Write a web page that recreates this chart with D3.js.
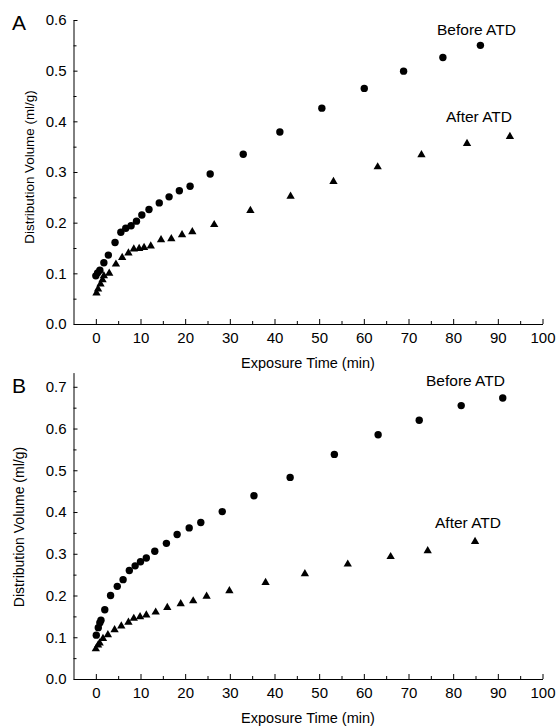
<!DOCTYPE html>
<head>
  <meta charset="utf-8">
  <title>Distribution Volume vs Exposure Time</title>
  <script src="https://d3js.org/d3.v7.min.js"></script>
  <style>
    body { margin: 0; background: #fff; }
    svg { font-family: "Liberation Sans", Arial, sans-serif; }
    .axis path, .axis line { stroke: #000; stroke-width: 1px; }
    .axis text { font-size: 15px; fill: #000; }
  </style>
</head>
<body>
<svg id="chart" width="556" height="726"></svg>
<script>
  // Panel A — before ATD (circles) and after ATD (triangles)
  var beforeA_t = [0.0, 0.4, 0.9, 1.8, 2.8, 4.3, 5.6, 6.7, 7.9, 9.1, 10.3, 11.9, 14.2, 16.4, 18.7, 21.1, 25.6, 33.0, 41.2, 50.6, 60.1, 68.9, 77.7, 86.1];
  var beforeA_v = [0.095, 0.101, 0.106, 0.121, 0.136, 0.161, 0.181, 0.189, 0.194, 0.203, 0.215, 0.226, 0.239, 0.251, 0.263, 0.272, 0.296, 0.335, 0.379, 0.426, 0.465, 0.499, 0.526, 0.550];
  var afterA_t = [0.15, 0.5, 1.05, 1.5, 1.8, 3.0, 4.5, 5.9, 7.3, 8.5, 9.7, 10.8, 12.3, 14.6, 16.9, 19.3, 21.6, 26.5, 34.6, 43.6, 53.2, 63.1, 72.9, 83.1, 92.7];
  var afterA_v = [0.061, 0.069, 0.079, 0.087, 0.095, 0.100, 0.118, 0.131, 0.140, 0.148, 0.149, 0.151, 0.154, 0.166, 0.168, 0.176, 0.182, 0.196, 0.224, 0.252, 0.281, 0.310, 0.334, 0.356, 0.370];

  // Panel B
  var beforeB_t = [0.1, 0.55, 0.9, 1.15, 2.0, 3.3, 4.8, 6.1, 7.5, 8.8, 10.0, 11.3, 13.2, 15.8, 18.2, 20.9, 23.5, 28.3, 35.4, 43.5, 53.4, 63.2, 72.4, 81.8, 91.1];
  var beforeB_v = [0.105, 0.123, 0.135, 0.141, 0.166, 0.200, 0.222, 0.238, 0.260, 0.271, 0.281, 0.290, 0.306, 0.325, 0.346, 0.362, 0.375, 0.401, 0.439, 0.483, 0.538, 0.585, 0.620, 0.655, 0.673];
  var afterB_t = [0.0, 0.5, 0.85, 1.6, 2.7, 4.2, 5.7, 7.3, 8.5, 9.9, 11.3, 13.4, 16.0, 19.0, 21.8, 24.8, 29.9, 38.0, 46.8, 56.4, 66.0, 74.3, 84.9];
  var afterB_v = [0.072, 0.081, 0.086, 0.097, 0.106, 0.118, 0.127, 0.136, 0.145, 0.149, 0.153, 0.160, 0.171, 0.180, 0.187, 0.198, 0.211, 0.231, 0.252, 0.275, 0.293, 0.307, 0.329];

  var xTicks = [0, 10, 20, 30, 40, 50, 60, 70, 80, 90, 100];
  var xMinor = [5, 15, 25, 35, 45, 55, 65, 75, 85, 95];
  var yTicksA = [0.0, 0.1, 0.2, 0.3, 0.4, 0.5, 0.6];
  var yTicksB = [0.0, 0.1, 0.2, 0.3, 0.4, 0.5, 0.6, 0.7];

  var svg = d3.select("#chart");

  function panel(opt) {
    var g = svg.append("g");
    var x = d3.scaleLinear().domain([-5, 100]).range([73.5, 542.5]);
    var y = d3.scaleLinear().domain(opt.yDomain).range(opt.yRange);
    var yMinor = d3.range(0.05, opt.yDomain[1], 0.1);

    // axes, ticks point inward
    g.append("g").attr("class", "axis")
      .attr("transform", "translate(0," + y(0) + ")")
      .call(d3.axisBottom(x).tickValues(xTicks).tickSizeInner(-5).tickSizeOuter(0)
        .tickPadding(8).tickFormat(d3.format("d")));
    g.append("g").attr("class", "axis")
      .attr("transform", "translate(0," + y(0) + ")")
      .call(d3.axisBottom(x).tickValues(xMinor).tickSizeInner(-3).tickSizeOuter(0).tickFormat(""))
      .select(".domain").remove();
    g.append("g").attr("class", "axis")
      .attr("transform", "translate(" + x(-5) + ",0)")
      .call(d3.axisLeft(y).tickValues(opt.yTicks).tickSizeInner(-4).tickSizeOuter(0)
        .tickPadding(7).tickFormat(d3.format(".1f")));
    g.append("g").attr("class", "axis")
      .attr("transform", "translate(" + x(-5) + ",0)")
      .call(d3.axisLeft(y).tickValues(yMinor).tickSizeInner(-3).tickSizeOuter(0).tickFormat(""))
      .select(".domain").remove();

    // markers
    g.selectAll(".before").data(opt.bt).enter().append("circle")
      .attr("cx", function(d) { return x(d); })
      .attr("cy", function(d, i) { return y(opt.bv[i]); })
      .attr("r", 3.7).attr("fill", "#000");
    var tri = d3.symbol().type(d3.symbolTriangle).size(30);
    g.selectAll(".after").data(opt.at).enter().append("path")
      .attr("d", tri)
      .attr("transform", function(d, i) { return "translate(" + x(d) + "," + y(opt.av[i]) + ")"; })
      .attr("fill", "#000");

    // text
    g.append("text").attr("x", 12).attr("y", opt.letterY)
      .attr("font-size", 21).text(opt.letter);
    g.append("text")
      .attr("transform", "translate(" + opt.yTitleX + "," + opt.yTitleY + ") rotate(-90)")
      .attr("text-anchor", "middle").attr("font-size", opt.yTitleSize)
      .text("Distribution Volume (ml/g)");
    g.append("text").attr("x", 308).attr("y", y(0) + 44)
      .attr("text-anchor", "middle").attr("font-size", 14.5)
      .text("Exposure Time (min)");
    g.append("text").attr("x", opt.bLab[0]).attr("y", opt.bLab[1])
      .attr("font-size", 15.5).text("Before ATD");
    g.append("text").attr("x", opt.aLab[0]).attr("y", opt.aLab[1])
      .attr("font-size", 15.5).text("After ATD");
  }

  panel({
    yDomain: [0, 0.6], yRange: [324, 20], yTicks: yTicksA,
    bt: beforeA_t, bv: beforeA_v, at: afterA_t, av: afterA_v,
    letter: "A", letterY: 30, yTitleX: 34, yTitleY: 167, yTitleSize: 13.4,
    bLab: [437, 35], aLab: [446, 122]
  });
  panel({
    yDomain: [0, 0.734], yRange: [679, 372.6], yTicks: yTicksB,
    bt: beforeB_t, bv: beforeB_v, at: afterB_t, av: afterB_v,
    letter: "B", letterY: 393, yTitleX: 24, yTitleY: 527, yTitleSize: 14,
    bLab: [426, 386], aLab: [435, 528]
  });
</script>
</body>
</html>
